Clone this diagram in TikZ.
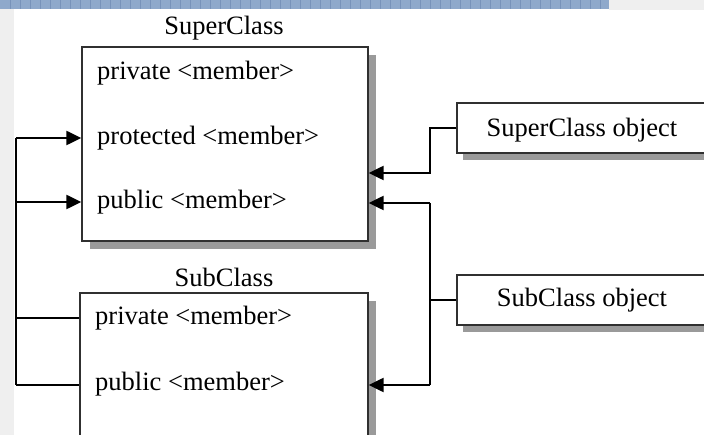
\documentclass[tikz,border=0pt]{standalone}
\usepackage{fontspec}
\setmainfont{Liberation Serif}
\usetikzlibrary{arrows.meta,shadows}
\definecolor{bandblue}{HTML}{8FA9CB}
\definecolor{bandline}{HTML}{7893BA}
\definecolor{stripgrey}{HTML}{EFEFEF}
\definecolor{shadowgrey}{HTML}{9A9A9A}
\definecolor{boxline}{HTML}{303030}
\begin{document}
\begin{tikzpicture}[x=1pt,y=-1pt,
  classbox/.style={draw=boxline,line width=1.3pt,fill=white,inner sep=0pt,
    general shadow={fill=shadowgrey,shadow xshift=8pt,shadow yshift=-8pt}},
  objbox/.style={draw=boxline,line width=1.3pt,fill=white,inner sep=0pt,
    general shadow={fill=shadowgrey,shadow xshift=6pt,shadow yshift=-7pt}},
  txt/.style={font=\fontsize{26.5}{30}\selectfont,inner sep=0pt},
  member/.style={txt,anchor=west},
  conn/.style={line width=2.2pt,black},
  tip/.style={-{Triangle[length=15pt,width=14pt]}}]
\useasboundingbox (0,0) rectangle (704,435);
\clip (0,0) rectangle (704,435);
% background template
\fill[white] (0,0) rectangle (704,435);
\fill[stripgrey] (0,0) rectangle (14,435);
\fill[stripgrey] (609,0) rectangle (704,10);
\fill[bandblue] (0,0) rectangle (609,9);
\foreach \x in {10,20,...,600} \draw[bandline,line width=0.8pt] (\x,0) -- (\x,9);
% class boxes
\node[classbox,minimum width=286pt,minimum height=194pt] (super) at (225,144) {};
\node[classbox,minimum width=288pt,minimum height=170pt] (sub) at (224,378) {};
\node[txt] (supert) at (224,28) {SuperClass};
\node[txt] (subt) at (224,277) {SubClass};
\node[member] (sprv) at (97,73) {private <member>};
\node[member] (sprot) at (97,138) {protected <member>};
\node[member] (spub) at (97,202) {public <member>};
\node[member] (bprv) at (95,318) {private <member>};
\node[member] (bpub) at (95,384) {public <member>};
% object boxes
\node[objbox,minimum width=260pt,minimum height=50pt] (sobj) at (587,128) {};
\node[objbox,minimum width=260pt,minimum height=50pt] (bobj) at (587,300) {};
\node[txt] (sobjt) at (582,130) {SuperClass object};
\node[txt] (bobjt) at (582,300) {SubClass object};
% left connectors
\coordinate (Ltop) at (16,138);
\coordinate (Lbot) at (16,385);
\draw[conn] (Ltop) -- (Lbot);
\draw[conn,tip] (Ltop) -- (super.west |- Ltop);
\draw[conn,tip] (Ltop |- spub.west) -- (super.west |- spub.west);
\draw[conn] (Ltop |- bprv.west) -- (sub.west |- bprv.west);
\draw[conn] (Lbot) -- (sub.west |- Lbot);
% right connectors
\coordinate (J1) at (430,173);
\coordinate (J2a) at (430,203);
\coordinate (J2b) at (430,385);
\draw[conn,tip] (sobj.west) -| (J1) -- (super.east |- J1);
\draw[conn] (J2a) -- (J2b);
\draw[conn,tip] (J2a) -- (super.east |- J2a);
\draw[conn,tip] (J2b) -- (sub.east |- J2b);
\draw[conn] (bobj.west) -- (J2a |- bobj.west);
\end{tikzpicture}
\end{document}
